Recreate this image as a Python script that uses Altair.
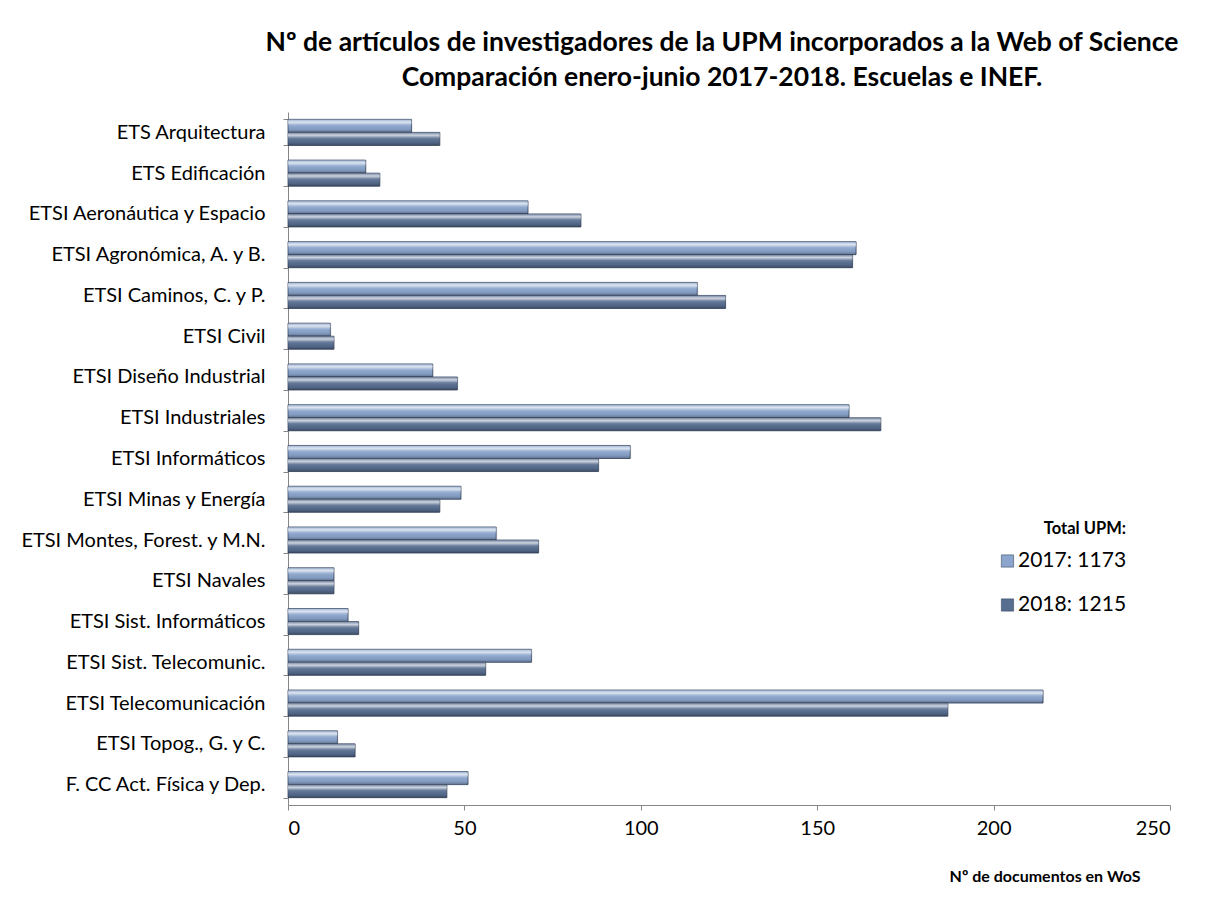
import altair as alt
import pandas as pd

schools = [
    "ETS Arquitectura ",
    "ETS Edificación",
    "ETSI Aeronáutica y Espacio",
    "ETSI Agronómica, A. y B.",
    "ETSI Caminos, C. y P.",
    "ETSI Civil ",
    "ETSI Diseño Industrial",
    "ETSI Industriales ",
    "ETSI Informáticos",
    "ETSI Minas y Energía",
    "ETSI Montes, Forest. y M.N.",
    "ETSI Navales",
    "ETSI Sist. Informáticos",
    "ETSI Sist. Telecomunic.",
    "ETSI Telecomunicación",
    "ETSI Topog., G. y C.",
    "F. CC Act. Física y Dep.",
]
values_2017 = [35, 22, 68, 161, 116, 12, 41, 159, 97, 49, 59, 13, 17, 69, 214, 14, 51]
values_2018 = [43, 26, 83, 160, 124, 13, 48, 168, 88, 43, 71, 13, 20, 56, 187, 19, 45]
series_labels = ["2017: 1173", "2018: 1215"]
series_colors = ["#8ba5cd", "#586e91"]

rows = []
for s, v in zip(schools, values_2017):
    rows.append({"school": s, "serie": series_labels[0], "value": v})
for s, v in zip(schools, values_2018):
    rows.append({"school": s, "serie": series_labels[1], "value": v})
df = pd.DataFrame(rows)

FONT = "Lato"

base = alt.Chart(df).encode(
    y=alt.Y(
        "school:N",
        sort=schools,
        scale=alt.Scale(paddingInner=0.36, paddingOuter=0.18),
        axis=alt.Axis(
            title=None,
            grid=False,
            tickBand="extent",
            tickSize=5,
            tickColor="#868686",
            domainColor="#868686",
            labelFontSize=20,
            labelFont=FONT,
            labelColor="#000000",
            labelPadding=18,
            labelLimit=400,
        ),
    ),
    yOffset=alt.YOffset("serie:N", sort=series_labels, scale=alt.Scale(paddingInner=0, paddingOuter=0)),
    x=alt.X(
        "value:Q",
        scale=alt.Scale(domain=[0, 250], nice=False),
        axis=alt.Axis(
            values=[0, 50, 100, 150, 200, 250],
            grid=False,
            tickSize=5,
            tickColor="#868686",
            domainColor="#868686",
            labelFontSize=20,
            labelFont=FONT,
            labelColor="#000000",
            labelPadding=8,
            title="Nº de documentos en WoS",
            titleFont=FONT,
            titleFontSize=16,
            titleFontWeight="bold",
            titleColor="#000000",
            titleX=852,
            titleY=71,
            titleAlign="right",
            titleBaseline="middle",
        ),
    ),
)

shadow = base.mark_bar(
    fill="rgba(0,0,0,0.13)", strokeWidth=0, yOffset=3, xOffset=1
)

bars = base.mark_bar(stroke="#3b4b66", strokeWidth=0.8).encode(
    color=alt.Color(
        "serie:N",
        sort=series_labels,
        scale=alt.Scale(domain=series_labels, range=series_colors),
        legend=alt.Legend(
            title="Total UPM:",
            orient="none",
            legendX=709,
            legendY=409,
            titleFont=FONT,
            titleFontSize=16.5,
            titleFontWeight="bold",
            titleColor="#000000",
            titleAnchor="end",
            titlePadding=13,
            labelFont=FONT,
            labelFontSize=21,
            labelColor="#000000",
            labelOffset=0,
            symbolType="square",
            symbolSize=150,
            symbolStrokeColor="#3b4b66",
            symbolStrokeWidth=0.6,
            rowPadding=22,
        ),
    )
)

gloss = base.mark_bar(
    fill=alt.LinearGradient(
        gradient="linear",
        x1=0, y1=0, x2=0, y2=1,
        stops=[
            alt.GradientStop(color="rgba(255,255,255,0.15)", offset=0),
            alt.GradientStop(color="rgba(255,255,255,0.70)", offset=0.22),
            alt.GradientStop(color="rgba(255,255,255,0.10)", offset=0.45),
            alt.GradientStop(color="rgba(0,0,0,0.05)", offset=0.75),
            alt.GradientStop(color="rgba(0,0,0,0.30)", offset=1),
        ],
    ),
    strokeWidth=0,
)

chart = (
    alt.layer(shadow, bars, gloss)
    .properties(
        width=882,
        height=693,
        background="#ffffff",
        autosize=alt.AutoSizeParams(type="none"),
        padding={"left": 280, "top": 104, "right": 30, "bottom": 80},
        title=alt.TitleParams(
            text=[
                "Nº de artículos de investigadores de la UPM incorporados a la Web of Science",
                "Comparación enero-junio 2017-2018. Escuelas e INEF.",
            ],
            font=FONT,
            fontSize=26.5,
            fontWeight="bold",
            color="#000000",
            anchor="middle",
            dx=-7,
            lineHeight=35,
            offset=11,
        ),
    )
    .configure_axis(grid=False)
    .configure_view(stroke=None, strokeWidth=0)
)

chart.save("out.html", embed_options={"renderer": "svg", "actions": False})
